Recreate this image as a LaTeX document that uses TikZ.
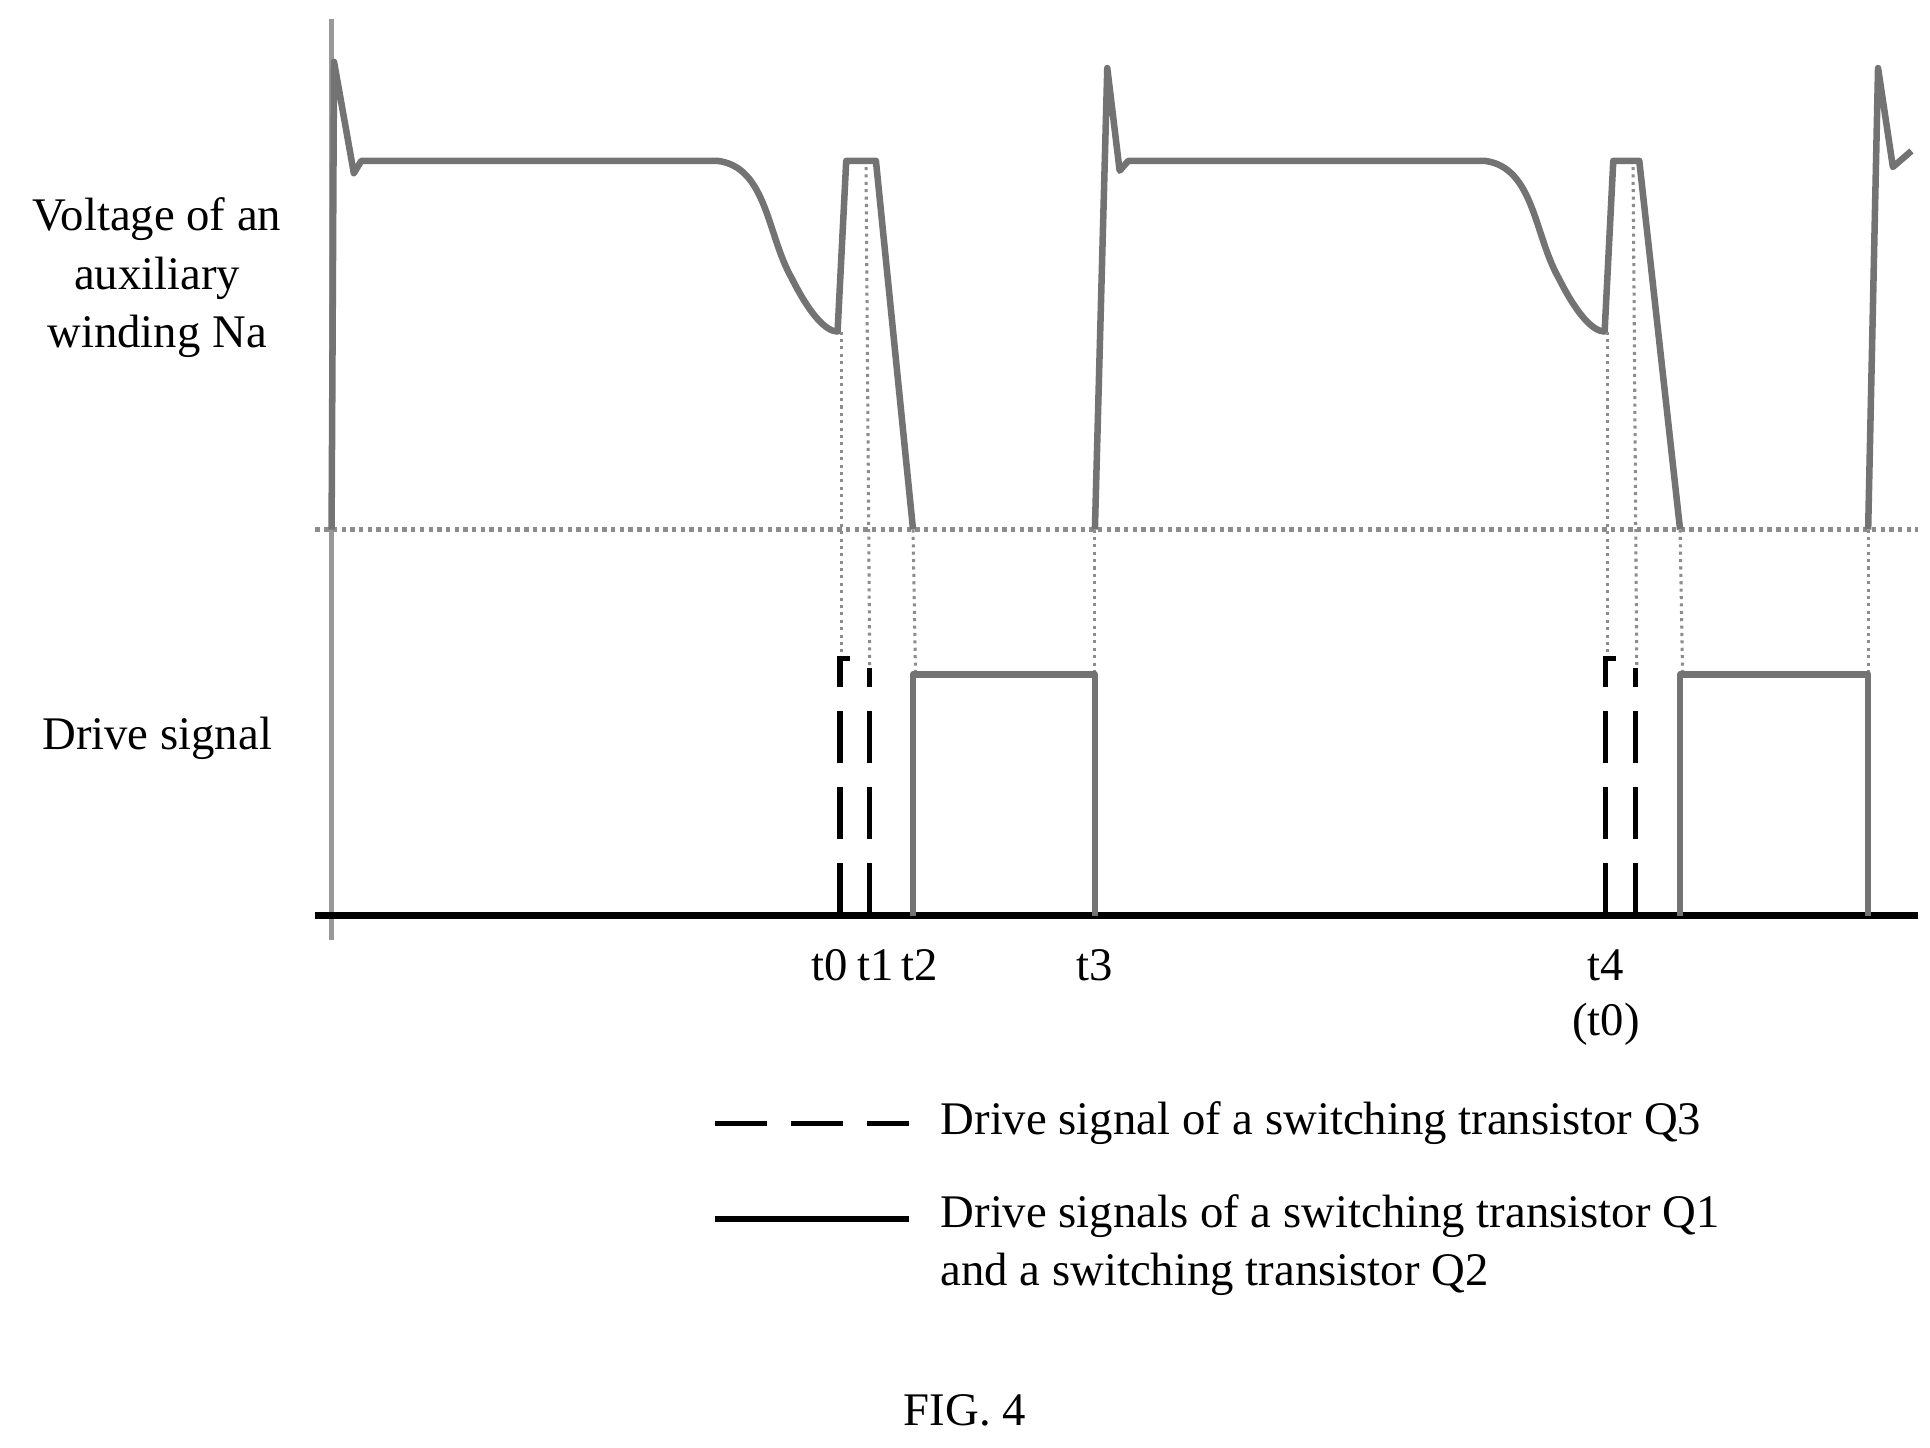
\documentclass[tikz,border=0pt]{standalone}
\usepackage{fontspec}
\setmainfont{Liberation Serif}
\begin{document}
\begin{tikzpicture}[x=0.02cm,y=-0.02cm,
 wave/.style={draw=black!55,line width=3pt,line join=round},
 guide/.style={draw=black!45,line width=1.4pt,dotted},
 axis/.style={draw=black!40,line width=2.4pt},
 qthree/.style={draw=black,line width=2.4pt,dash pattern=on 24pt off 11pt},
 lbl/.style={font=\fontsize{21.5}{26}\selectfont,inner sep=0pt}]
\useasboundingbox (0,0) rectangle (1560,1170);
% axes
\draw[axis] (268,15) -- (268,760);
\draw[draw=black!45,line width=2pt,dotted] (255,428) -- (1550,428);
\draw[black,line width=3.5pt] (255,740) -- (1550,740);
% waveform
\draw[wave] (268,428) -- (270,50) -- (286,140) -- (292,130) -- (580,130)
  .. controls (620,135) and (620,190) .. (640,225)
  .. controls (655,255) and (668,268) .. (677,268) -- (684,130) -- (708,130) -- (738,428);
\draw[wave] (885,428) -- (895,55) -- (905,138) -- (912,130) -- (1200,130)
  .. controls (1240,135) and (1240,190) .. (1260,225)
  .. controls (1275,255) and (1288,268) .. (1297,268) -- (1304,130) -- (1325,130) -- (1358,428);
\draw[wave] (1510,428) -- (1518,55) -- (1530,135) -- (1545,122);
% guides
\draw[guide] (680,268) -- (680,530);
\draw[guide] (700,135) -- (703,540);
\draw[guide] (738,428) -- (740,545);
\draw[guide] (885,428) -- (885,545);
\draw[guide] (1299,268) -- (1299,530);
\draw[guide] (1320,135) -- (1323,540);
\draw[guide] (1358,428) -- (1360,545);
\draw[guide] (1510,428) -- (1510,545);
% drive signals
\draw[qthree] (679,740) -- (679,532) -- (687,532);
\draw[qthree] (703,740) -- (703,540);
\draw[wave] (738,740) -- (738,545) -- (885,545) -- (885,740);
\draw[qthree] (1298,740) -- (1298,532) -- (1306,532);
\draw[qthree] (1322,740) -- (1322,540);
\draw[wave] (1358,740) -- (1358,545) -- (1510,545) -- (1510,740);
% labels
\node[lbl] (a1) at (127,177) {Voltage of an};
\node[lbl] (a2) at (127,225) {auxiliary};
\node[lbl] (a3) at (127,272) {winding Na};
\node[lbl] (ds) at (127,597) {Drive signal};
\node[lbl] (t0) at (671,780) {t0};
\node[lbl] (t1) at (708,780) {t1};
\node[lbl] (t2) at (743,780) {t2};
\node[lbl] (t3) at (885,780) {t3};
\node[lbl] (t4) at (1298,780) {t4};
\node[lbl] (t0b) at (1298,828) {(t0)};
% legend
\draw[qthree] (578,908) -- (735,908);
\node[lbl,anchor=west] (l1) at (760,908) {Drive signal of a switching transistor Q3};
\draw[black,line width=2.8pt] (578,985) -- (735,985);
\node[lbl,anchor=west] (l2) at (760,983) {Drive signals of a switching transistor Q1};
\node[lbl,anchor=west] (l3) at (760,1030) {and a switching transistor Q2};
\node[lbl] (fig) at (780,1140) {FIG. 4};
\end{tikzpicture}
\end{document}
